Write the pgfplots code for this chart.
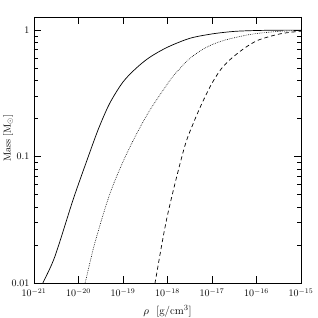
\documentclass[border=0pt]{standalone}
\usepackage{pgfplots}
\pgfplotsset{compat=1.18}
\begin{document}
\begin{tikzpicture}
\path[use as bounding box] (0,0) rectangle (318pt,318pt);
\begin{axis}[
  at={(34pt,35pt)}, anchor=south west,
  scale only axis, width=267pt, height=266pt,
  xmode=log, ymode=log,
  xmin=1e-21, xmax=1e-15, ymin=0.01, ymax=1.27,
  xtick={1e-21,1e-20,1e-19,1e-18,1e-17,1e-16,1e-15},
  xminorticks=false,
  ytick={0.01,0.1,1}, yticklabels={0.01,0.1,1},
  major tick length=7pt, minor tick length=4pt,
  tick style={black, line width=0.6pt},
  axis line style={line width=0.7pt},
  xticklabel style={yshift=-2pt},
  yticklabel style={xshift=-1pt},
  xlabel={$\rho$\ \ [g/cm$^3$]},
  ylabel={Mass [M$_\odot$]},
  xlabel style={at={(axis description cs:0.5,0)}, anchor=north, yshift=-19pt, font=\fontsize{11}{13}\selectfont},
  ylabel style={at={(axis description cs:-0.097,0.545)}, anchor=center},
  clip=true,
]
\addplot[black, line width=0.7pt, smooth] coordinates {
(1.413e-21,8.91e-3) (1.585e-21,0.01) (2.951e-21,1.622e-2) (7.586e-21,4.571e-2)
(1.622e-20,9.77e-2) (2.818e-20,0.1660) (5.012e-20,0.2630) (1e-19,0.3890)
(1.995e-19,0.5012) (3.981e-19,0.6095) (1e-18,0.7328) (3.162e-18,0.861)
(1e-17,0.933) (3.162e-17,0.977) (1e-16,0.993) (3.162e-16,0.999) (1e-15,1.0)
};
\addplot[black, line width=0.6pt, dash pattern=on 0.7pt off 1.1pt, smooth] coordinates {
(1.259e-20,8.51e-3) (1.413e-20,0.01) (2.344e-20,2.089e-2) (5.129e-20,5.129e-2)
(1.202e-19,0.1047) (3.467e-19,0.2138) (1.122e-18,0.3981) (1.778e-18,0.4842)
(2.884e-18,0.5794) (5.370e-18,0.6839) (1e-17,0.7674) (1.995e-17,0.8356)
(5.012e-17,0.9016) (1e-16,0.9397) (3.162e-16,0.9772) (1e-15,0.9931)
};
\addplot[black, line width=0.7pt, dash pattern=on 4pt off 3pt, smooth] coordinates {
(5.012e-19,9.12e-3) (5.248e-19,0.01) (9.772e-19,3.311e-2) (2.344e-18,0.1148)
(3.981e-18,0.1905) (6.31e-18,0.2754) (1e-17,0.3802) (1.585e-17,0.4898)
(2.512e-17,0.5821) (5.012e-17,0.7079) (1e-16,0.8222) (1.995e-16,0.8913)
(3.981e-16,0.9441) (1e-15,0.9817)
};
\end{axis}
\end{tikzpicture}
\end{document}
